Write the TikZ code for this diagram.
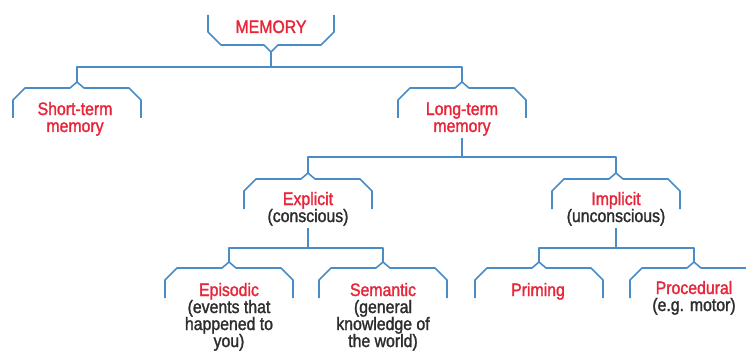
\documentclass[tikz,border=0pt]{standalone}
\usepackage{fontspec}
\setmainfont{Liberation Sans}[FakeStretch=0.88, FakeBold=1.6]
\definecolor{memred}{RGB}{232,38,58}
\definecolor{memblue}{RGB}{74,140,200}
\definecolor{memgray}{RGB}{45,45,45}
\tikzset{
  tree/.style={draw=memblue, line width=1.6pt, line join=round},
  lbl/.style={font=\fontsize{18}{17}\selectfont, align=center, inner sep=0pt, anchor=base, text=memred},
  brkdown/.pic={\draw[tree] (-64,30) -- (-64,12) -- (-52,0) -- (-7,0) -- (0,-6) -- (7,0) -- (52,0) -- (64,12) -- (64,30);},
  brkup/.pic={\draw[tree] (-63,-30) -- (-63,-13) -- (-50,0) -- (-7,0) -- (0,7) -- (7,0) -- (50,0) -- (63,-13) -- (63,-30);}
}
\begin{document}
\begin{tikzpicture}[x=1pt,y=-1pt]
\useasboundingbox (0,0) rectangle (746,358);
\clip (0,0) rectangle (746,358);
% text nodes (anchor base = baseline of the last line)
\node[lbl] (mem) at (271,33) {MEMORY};
\node[lbl] (st) at (75,132) {Short-term\\memory};
\node[lbl] (lt) at (462,132) {Long-term\\memory};
\node[lbl] (ex) at (308,222) {Explicit\\\textcolor{memgray}{(conscious)}};
\node[lbl] (im) at (616,222) {Implicit\\\textcolor{memgray}{(unconscious)}};
\node[lbl] (ep) at (229,347) {Episodic\\\textcolor{memgray}{(events that}\\\textcolor{memgray}{happened to}\\\textcolor{memgray}{you)}};
\node[lbl] (se) at (383,347) {Semantic\\\textcolor{memgray}{(general}\\\textcolor{memgray}{knowledge of}\\\textcolor{memgray}{the world)}};
\node[lbl] (pr) at (538,296) {Priming};
\node[lbl] (pc) at (694,311) {Procedural\\\textcolor{memgray}{(e.g. motor)}};
% brackets
\pic at (271,45) {brkup};
\pic at (77,88) {brkdown};
\pic at (462,88) {brkdown};
\pic at (308,179) {brkdown};
\pic at (616,179) {brkdown};
\pic at (229,268) {brkdown};
\pic at (383,268) {brkdown};
\pic at (539,268) {brkdown};
\pic at (694,268) {brkdown};
% notch tips
\coordinate (tM) at (271,52);
\coordinate (tST) at (77,82);
\coordinate (tLT) at (462,82);
\coordinate (tEX) at (308,173);
\coordinate (tIM) at (616,173);
\coordinate (tEP) at (229,262);
\coordinate (tSE) at (383,262);
\coordinate (tPR) at (539,262);
\coordinate (tPC) at (694,262);
\coordinate (jLT) at (462,157);
\coordinate (jEX) at (308,248);
\coordinate (jIM) at (616,248);
% connectors
\draw[tree] (tM) -- (tM |- 0,67);
\draw[tree] (tST) -- (tST |- 0,67) -| (tLT);
\draw[tree] (lt.south) ++(0,2) -- (jLT);
\draw[tree] (tEX) -- (tEX |- jLT) -| (tIM);
\draw[tree] (ex.south) ++(0,2) -- (jEX);
\draw[tree] (tEP) -- (tEP |- jEX) -| (tSE);
\draw[tree] (im.south) ++(0,2) -- (jIM);
\draw[tree] (tPR) -- (tPR |- jIM) -| (tPC);
\end{tikzpicture}
\end{document}
